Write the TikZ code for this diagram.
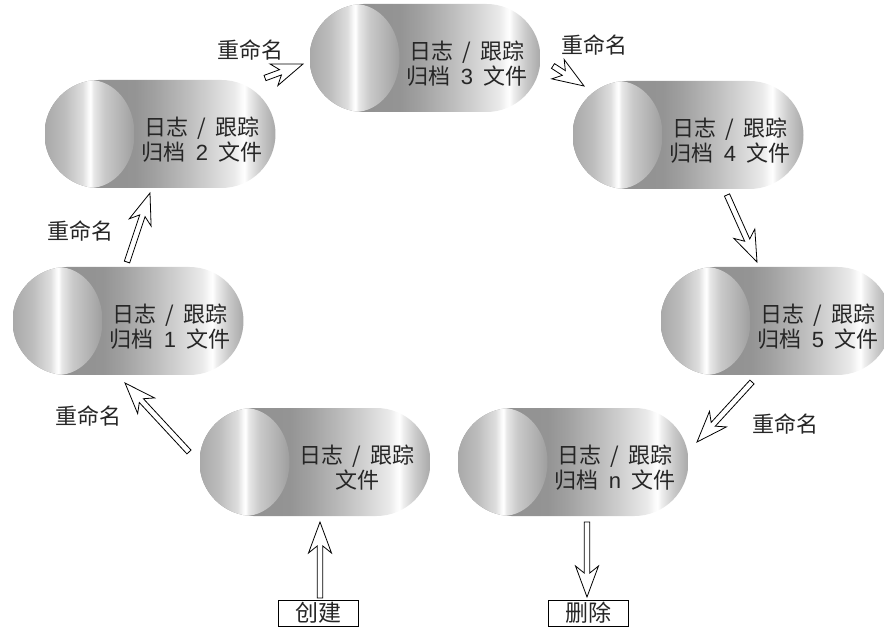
\documentclass[tikz,border=0pt]{standalone}
\usepackage{fontspec}
\setmainfont{Noto Sans CJK SC}
\newfontfamily\latin{Liberation Sans}
\usetikzlibrary{calc}

% metallic shadings: long body (231pt wide) and the round end face (90pt wide)
\pgfdeclarehorizontalshading{capbody}{108pt}{%
  rgb(0pt)=(.56,.56,.56); rgb(90pt)=(.58,.58,.58); rgb(110pt)=(.63,.63,.63);
  rgb(140pt)=(.73,.73,.73); rgb(170pt)=(.84,.84,.84); rgb(190pt)=(.92,.92,.92);
  rgb(197pt)=(.98,.98,.98); rgb(200pt)=(1,1,1); rgb(204pt)=(.93,.93,.93);
  rgb(215pt)=(.80,.80,.80); rgb(231pt)=(.66,.66,.66)}
\pgfdeclarehorizontalshading{capend}{108pt}{%
  rgb(0pt)=(.66,.66,.66); rgb(20pt)=(.74,.74,.74); rgb(38pt)=(.87,.87,.87);
  rgb(44pt)=(.98,.98,.98); rgb(46pt)=(1,1,1); rgb(49pt)=(.91,.91,.91);
  rgb(60pt)=(.79,.79,.79); rgb(80pt)=(.68,.68,.68); rgb(90pt)=(.62,.62,.62)}

\newcommand{\slsh}{\hspace{0.4em}/\hspace{0.4em}}
\newcommand{\arcno}[1]{\hspace{0.45em}{\latin #1}\hspace{0.45em}}
% open block arrow from #1 to #2
\newcommand{\hollowarrow}[2]{%
  \draw[hollow] let \p1=($(#2)-(#1)$), \n1={atan2(\y1,\x1)}, \n2={veclen(\x1,\y1)} in
    [shift={(#1)}, rotate=\n1] (0pt,-2.8pt) -- (\n2-24pt,-2.8pt) -- (\n2-31pt,-11.5pt)
    -- (\n2,0pt) -- (\n2-31pt,11.5pt) -- (\n2-24pt,2.8pt) -- (0pt,2.8pt) -- cycle;}

\begin{document}
\begin{tikzpicture}[x=1pt, y=-1pt,
  every node/.style={font=\fontsize{22}{25}\selectfont, text=black!85},
  capsule/.style={rounded corners=54pt, minimum width=231pt, minimum height=108pt,
    inner sep=0pt,
    path picture={
      \pgftext[at=\pgfpointanchor{path picture bounding box}{center}]{\pgfuseshading{capbody}}
      \begin{scope}
        \clip ([xshift=45pt]path picture bounding box.west) ellipse [x radius=45pt, y radius=54pt];
        \pgftext[at=\pgfpointadd{\pgfpointanchor{path picture bounding box}{west}}{\pgfpoint{45pt}{0pt}}]{\pgfuseshading{capend}}
      \end{scope}}},
  captext/.style={align=center, xshift=42pt, yshift=-6pt},
  actbox/.style={draw, thin, minimum width=80pt, minimum height=26pt, inner sep=0pt,
    font=\fontsize{23}{23}\selectfont},
  hollow/.style={draw=black, line width=0.8pt, fill=white, line join=miter}
]
\useasboundingbox (0,0) rectangle (884,628);
\clip (0,0) rectangle (884,628);

% the ring of files
\node[capsule, label={[captext]center:{日志\slsh 跟踪\\文件}}] (cur) at (315,462) {};
\node[capsule, label={[captext]center:{日志\slsh 跟踪\\归档\arcno{1}文件}}] (arc1) at (128,321) {};
\node[capsule, label={[captext]center:{日志\slsh 跟踪\\归档\arcno{2}文件}}] (arc2) at (160,134) {};
\node[capsule, label={[captext]center:{日志\slsh 跟踪\\归档\arcno{3}文件}}] (arc3) at (425,58) {};
\node[capsule, label={[captext]center:{日志\slsh 跟踪\\归档\arcno{4}文件}}] (arc4) at (688,135) {};
\node[capsule, label={[captext]center:{日志\slsh 跟踪\\归档\arcno{5}文件}}] (arc5) at (776,321) {};
\node[capsule, label={[captext]center:{日志\slsh 跟踪\\归档\arcno{n}文件}}] (arcn) at (573,462) {};

% create / delete
\node[actbox] (create) at (318,613) {创建};
\node[actbox] (remove) at (588,613) {删除};

% arrow ends
\coordinate (new-s) at (320,598);  \coordinate (new-e) at (320,522);
\coordinate (del-s) at (587,522);  \coordinate (del-e) at (587,597);
\coordinate (r1-s) at (189,452);   \coordinate (r1-e) at (125,383);
\coordinate (r2-s) at (127,262);   \coordinate (r2-e) at (150,193);
\coordinate (r3-s) at (265,78);    \coordinate (r3-e) at (303,64);
\coordinate (r4-s) at (553,66);    \coordinate (r4-e) at (584,86);
\coordinate (r5-s) at (727,195);   \coordinate (r5-e) at (757,262);
\coordinate (r6-s) at (752,382);   \coordinate (r6-e) at (697,442);

\hollowarrow{new-s}{new-e}
\hollowarrow{del-s}{del-e}
\hollowarrow{r1-s}{r1-e}
\hollowarrow{r2-s}{r2-e}
\hollowarrow{r3-s}{r3-e}
\hollowarrow{r4-s}{r4-e}
\hollowarrow{r5-s}{r5-e}
\hollowarrow{r6-s}{r6-e}

% rename labels
\node (ren1) at (88,416) {重命名};
\node (ren2) at (80,231) {重命名};
\node (ren3) at (250,50) {重命名};
\node (ren4) at (594,45) {重命名};
\node (ren6) at (785,424) {重命名};
\end{tikzpicture}
\end{document}
